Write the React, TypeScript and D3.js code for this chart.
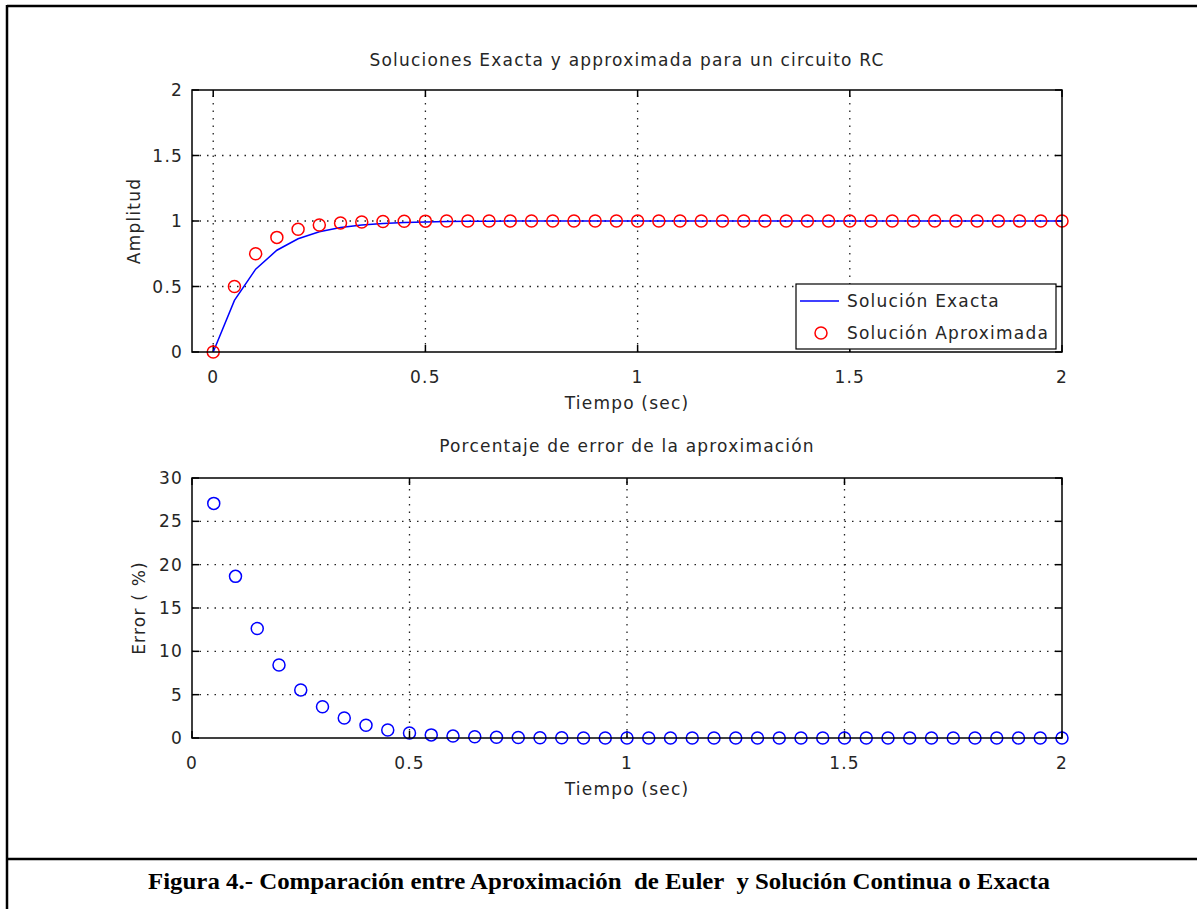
import React from "react";
import * as d3 from "d3";

// valores (paso 0.05 s)
const tiempo = [
  0, 0.05, 0.1, 0.15, 0.2, 0.25, 0.3, 0.35, 0.4, 0.45, 0.5, 0.55, 0.6, 0.65,
  0.7, 0.75, 0.8, 0.85, 0.9, 0.95, 1, 1.05, 1.1, 1.15, 1.2, 1.25, 1.3, 1.35,
  1.4, 1.45, 1.5, 1.55, 1.6, 1.65, 1.7, 1.75, 1.8, 1.85, 1.9, 1.95, 2,
];
const exacta = [
  0, 0.3935, 0.6321, 0.7769, 0.8647, 0.9179, 0.9502, 0.9698, 0.9817, 0.9889,
  0.9933, 0.9959, 0.9975, 0.9985, 0.9991, 0.9994, 0.9997, 0.9998, 0.9999,
  0.9999, 1, 1, 1, 1, 1, 1, 1, 1, 1, 1, 1, 1, 1, 1, 1, 1, 1, 1, 1, 1, 1,
];
const aproximada = [
  0, 0.5, 0.75, 0.875, 0.9375, 0.9688, 0.9844, 0.9922, 0.9961, 0.998, 0.999,
  0.9995, 0.9998, 0.9999, 0.9999, 1, 1, 1, 1, 1, 1, 1, 1, 1, 1, 1, 1, 1, 1, 1,
  1, 1, 1, 1, 1, 1, 1, 1, 1, 1, 1,
];
const tiempoError = tiempo.slice(1);
const errorPct = [
  27.07, 18.65, 12.63, 8.42, 5.54, 3.6, 2.31, 1.47, 0.93, 0.58, 0.36, 0.22,
  0.14, 0.09, 0.05, 0.03, 0.02, 0.01, 0.01, 0, 0, 0, 0, 0, 0, 0, 0, 0, 0, 0, 0,
  0, 0, 0, 0, 0, 0, 0, 0, 0,
];

const xTicks = [0, 0.5, 1, 1.5, 2];
const yTicksTop = [0, 0.5, 1, 1.5, 2];
const yTicksBottom = [0, 5, 10, 15, 20, 25, 30];

const W = 1197;
const H = 909;
const FONT = "DejaVu Sans";
const FS = 17;
const LS = 1.2;
const TXT = "#262626";
const BLUE = "#0000ff";
const RED = "#ff0000";

const fmt = (v: number) => String(v);

const txtProps = {
  fontFamily: FONT,
  fontSize: FS,
  letterSpacing: LS,
  fill: TXT,
};

function Panel({ x, y, yTicks, title, titleY, yLabel, yLabelX, children }: any) {
  const [x0, x1] = x.range();
  const [y0, y1] = y.range();
  const tickLen = 7;
  return (
    <g>
      {/* rejilla punteada */}
      {xTicks
        .filter((t) => x(t) > x0 + 1 && x(t) < x1 - 1)
        .map((t) => (
          <line
            key={"gx" + t}
            x1={x(t)}
            x2={x(t)}
            y1={y0}
            y2={y1}
            stroke="#222"
            strokeWidth={1.3}
            strokeDasharray="1.5 6"
          />
        ))}
      {yTicks
        .filter((t: number) => y(t) < y0 - 1 && y(t) > y1 + 1)
        .map((t: number) => (
          <line
            key={"gy" + t}
            x1={x0}
            x2={x1}
            y1={y(t)}
            y2={y(t)}
            stroke="#222"
            strokeWidth={1.3}
            strokeDasharray="1.5 6"
          />
        ))}
      {/* marcas */}
      {xTicks.map((t) => (
        <g key={"tx" + t}>
          <line x1={x(t)} x2={x(t)} y1={y0} y2={y0 - tickLen} stroke="#000" strokeWidth={1.5} />
          <line x1={x(t)} x2={x(t)} y1={y1} y2={y1 + tickLen} stroke="#000" strokeWidth={1.5} />
          <text x={x(t)} y={y0 + 31} textAnchor="middle" {...txtProps}>
            {fmt(t)}
          </text>
        </g>
      ))}
      {yTicks.map((t: number) => (
        <g key={"ty" + t}>
          <line x1={x0} x2={x0 + tickLen} y1={y(t)} y2={y(t)} stroke="#000" strokeWidth={1.5} />
          <line x1={x1} x2={x1 - tickLen} y1={y(t)} y2={y(t)} stroke="#000" strokeWidth={1.5} />
          <text x={x0 - 9} y={y(t)} dy="0.36em" textAnchor="end" {...txtProps}>
            {fmt(t)}
          </text>
        </g>
      ))}
      {children}
      <rect
        x={x0}
        y={y1}
        width={x1 - x0}
        height={y0 - y1}
        fill="none"
        stroke="#000"
        strokeWidth={1.5}
      />
      <text x={(x0 + x1) / 2} y={titleY} textAnchor="middle" {...txtProps}>
        {title}
      </text>
      <text x={(x0 + x1) / 2} y={y0 + 57} textAnchor="middle" {...txtProps}>
        Tiempo (sec)
      </text>
      <text
        transform={`translate(${yLabelX},${(y0 + y1) / 2}) rotate(-90)`}
        textAnchor="middle"
        dy="0.36em"
        {...txtProps}
      >
        {yLabel}
      </text>
    </g>
  );
}

export default function App() {
  const xTop = d3.scaleLinear().domain([-0.05, 2]).range([192, 1062]);
  const yTop = d3.scaleLinear().domain([0, 2]).range([352, 90]);
  const xBot = d3.scaleLinear().domain([0, 2]).range([192, 1062]);
  const yBot = d3.scaleLinear().domain([0, 30]).range([738, 478]);

  const linea = d3
    .line<number>()
    .x((_, i) => xTop(tiempo[i]))
    .y((d) => yTop(d));

  const leg = { x: 796, y: 284, w: 260, h: 65 };

  return (
    <svg
      width={W}
      height={H}
      style={{ position: "absolute", left: 0, top: 0, background: "#fff" }}
    >
      <rect width={W} height={H} fill="#fff" />
      {/* marco de la figura */}
      <line x1={7} x2={W} y1={6} y2={6} stroke="#000" strokeWidth={2.5} />
      <line x1={7} x2={7} y1={5} y2={H} stroke="#000" strokeWidth={2.5} />
      <line x1={7} x2={W} y1={859} y2={859} stroke="#000" strokeWidth={2.5} />

      <Panel
        x={xTop}
        y={yTop}
        yTicks={yTicksTop}
        title="Soluciones Exacta y approximada para un circuito RC"
        titleY={66}
        yLabel="Amplitud"
        yLabelX={134}
      >
        <path d={linea(exacta) || ""} fill="none" stroke={BLUE} strokeWidth={1.5} />
        {aproximada.map((v, i) => (
          <circle
            key={i}
            cx={xTop(tiempo[i])}
            cy={yTop(v)}
            r={6}
            fill="none"
            stroke={RED}
            strokeWidth={1.5}
          />
        ))}
        {/* leyenda */}
        <rect x={leg.x} y={leg.y} width={leg.w} height={leg.h} fill="#fff" stroke="#000" strokeWidth={1.2} />
        <line x1={leg.x + 4} x2={leg.x + 43} y1={leg.y + 17} y2={leg.y + 17} stroke={BLUE} strokeWidth={1.5} />
        <text x={leg.x + 51} y={leg.y + 17} dy="0.36em" {...txtProps}>
          Solución Exacta
        </text>
        <circle cx={leg.x + 25} cy={leg.y + 49} r={6} fill="none" stroke={RED} strokeWidth={1.5} />
        <text x={leg.x + 51} y={leg.y + 49} dy="0.36em" {...txtProps}>
          Solución Aproximada
        </text>
      </Panel>

      <Panel
        x={xBot}
        y={yBot}
        yTicks={yTicksBottom}
        title="Porcentaje de error de la aproximación"
        titleY={452}
        yLabel="Error ( %)"
        yLabelX={139}
      >
        {errorPct.map((v, i) => (
          <circle
            key={i}
            cx={xBot(tiempoError[i])}
            cy={yBot(v)}
            r={6}
            fill="none"
            stroke={BLUE}
            strokeWidth={1.5}
          />
        ))}
      </Panel>

      <text
        x={599}
        y={889}
        textAnchor="middle"
        fontFamily="Liberation Serif"
        fontWeight="bold"
        fontSize={24}
        textLength={902}
        lengthAdjust="spacingAndGlyphs"
        fill="#000"
        style={{ whiteSpace: "pre" }}
      >
        Figura 4.- Comparación entre Aproximación  de Euler  y Solución Continua o Exacta
      </text>
    </svg>
  );
}
